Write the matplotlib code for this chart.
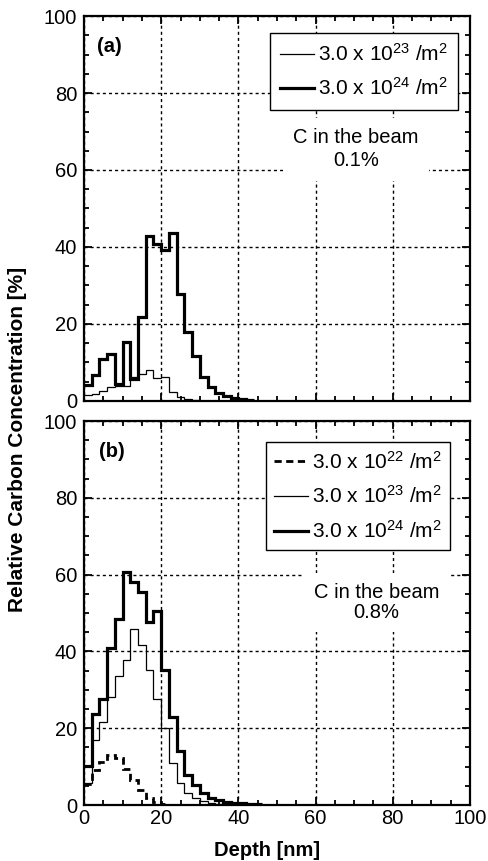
import numpy as np
import matplotlib
matplotlib.use("Agg")
import matplotlib.pyplot as plt
from matplotlib.ticker import MultipleLocator

plt.rcParams['font.family'] = ['Liberation Sans', 'DejaVu Sans']
plt.rcParams['mathtext.fontset'] = 'custom'
plt.rcParams['mathtext.rm'] = 'Liberation Sans'
plt.rcParams['mathtext.it'] = 'Liberation Sans:italic'
plt.rcParams['mathtext.bf'] = 'Liberation Sans:bold'

# depth bin edges [nm] (2 nm bins)
depth_edges = [0, 2, 4, 6, 8, 10, 12, 14, 16, 18, 20, 22, 24, 26, 28, 30,
               32, 34, 36, 38, 40, 42, 44, 46, 48]

# panel (a): 0.1% C in the beam
a_1e23 = [1.5, 1.8, 2.6, 3.7, 3.9, 4.0, 6.2, 6.9, 8.0, 6.0, 6.1, 2.4, 1.0,
          0.5, 0.2]
a_1e24 = [4.2, 6.8, 10.9, 12.2, 4.5, 15.2, 5.7, 21.9, 42.8, 40.7, 39.3, 43.6,
          27.9, 17.8, 11.6, 6.3, 3.5, 2.0, 1.2, 0.8, 0.5, 0.3]

# panel (b): 0.8% C in the beam
b_1e22 = [5.5, 9.0, 11.3, 13.0, 12.3, 9.5, 6.5, 4.0, 1.8, 0.8, 0.3]
b_1e23 = [5.7, 16.9, 21.6, 28.1, 33.5, 37.7, 45.9, 41.6, 35.1, 27.7, 20.0,
          10.9, 5.7, 3.1, 1.8, 1.0, 0.5, 0.3, 0.1]
b_1e24 = [10.2, 23.6, 27.5, 41.0, 48.5, 60.8, 58.2, 55.4, 47.6, 50.5, 35.1,
          22.9, 14.1, 7.7, 5.1, 3.2, 1.8, 1.2, 0.8, 0.5, 0.4, 0.3, 0.2]

lab22 = '3.0 x 10$^{22}$ /m$^2$'
lab23 = '3.0 x 10$^{23}$ /m$^2$'
lab24 = '3.0 x 10$^{24}$ /m$^2$'

FS = 14.5

def style(ax):
    ax.set_xlim(0, 100)
    ax.set_ylim(0, 100)
    ax.xaxis.set_major_locator(MultipleLocator(20))
    ax.xaxis.set_minor_locator(MultipleLocator(5))
    ax.yaxis.set_major_locator(MultipleLocator(20))
    ax.yaxis.set_minor_locator(MultipleLocator(5))
    ax.tick_params(which='both', direction='in', top=True, right=True,
                   width=1.3, colors='black')
    ax.tick_params(which='major', length=6, labelsize=FS)
    ax.tick_params(which='minor', length=3.5)
    ax.tick_params(axis='y', pad=5)
    ax.tick_params(axis='x', pad=3)
    for s in ax.spines.values():
        s.set_linewidth(1.6)
    ax.grid(True, which='major', color='black', linestyle=(0, (2.2, 2.2)),
            linewidth=1.0)

def stairs(ax, vals, **kw):
    ax.stairs(vals, depth_edges[:len(vals) + 1], baseline=None,
              color='black', **kw)

fig = plt.figure(figsize=(4.89, 8.61), dpi=100)
ax_a = fig.add_axes([0.1718, 0.5343, 0.7893, 0.4471])
ax_b = fig.add_axes([0.1718, 0.0650, 0.7893, 0.4460])

# (a)
style(ax_a)
ax_a.tick_params(labelbottom=False)
stairs(ax_a, a_1e23, linewidth=0.9, label=lab23)
stairs(ax_a, a_1e24, linewidth=2.3, label=lab24)
leg = ax_a.legend(loc='upper right', bbox_to_anchor=(0.969, 0.957),
                  borderaxespad=0, fancybox=False, edgecolor='black',
                  framealpha=1, fontsize=15, handlelength=1.6,
                  handletextpad=0.2, borderpad=0.5, labelspacing=0.6)
leg.get_frame().set_linewidth(1.0)
ax_a.text(70.4, 65.4, 'C in the beam\n0.1%', ha='center', va='center',
          fontsize=FS, linespacing=1.3,
          bbox=dict(boxstyle='square,pad=0.5', facecolor='white',
                    edgecolor='none'))
ax_a.text(0.034, 0.92, '(a)', transform=ax_a.transAxes, fontsize=FS,
          fontweight='bold', va='center', ha='left')

# (b)
style(ax_b)
stairs(ax_b, b_1e22, linewidth=2.0, linestyle=(0, (2.6, 1.6)), label=lab22)
stairs(ax_b, b_1e23, linewidth=0.9, label=lab23)
stairs(ax_b, b_1e24, linewidth=2.3, label=lab24)
leg = ax_b.legend(loc='upper right', bbox_to_anchor=(0.948, 0.945),
                  borderaxespad=0, fancybox=False, edgecolor='black',
                  framealpha=1, fontsize=15, handlelength=1.6,
                  handletextpad=0.2, borderpad=0.4, labelspacing=0.62)
leg.get_frame().set_linewidth(1.0)
ax_b.text(75.8, 52.7, 'C in the beam\n0.8%', ha='center', va='center',
          fontsize=FS, linespacing=1.05,
          bbox=dict(boxstyle='square,pad=0.5', facecolor='white',
                    edgecolor='none'))
ax_b.text(0.04, 0.92, '(b)', transform=ax_b.transAxes, fontsize=FS,
          fontweight='bold', va='center', ha='left')

fig.text(0.546, 0.012, 'Depth [nm]', ha='center', va='center',
         fontsize=FS, fontweight='bold')
fig.text(0.036, 0.49, 'Relative Carbon Concentration [%]', rotation=90,
         ha='center', va='center', fontsize=15, fontweight='bold')

fig.savefig('out.png', dpi=100)
